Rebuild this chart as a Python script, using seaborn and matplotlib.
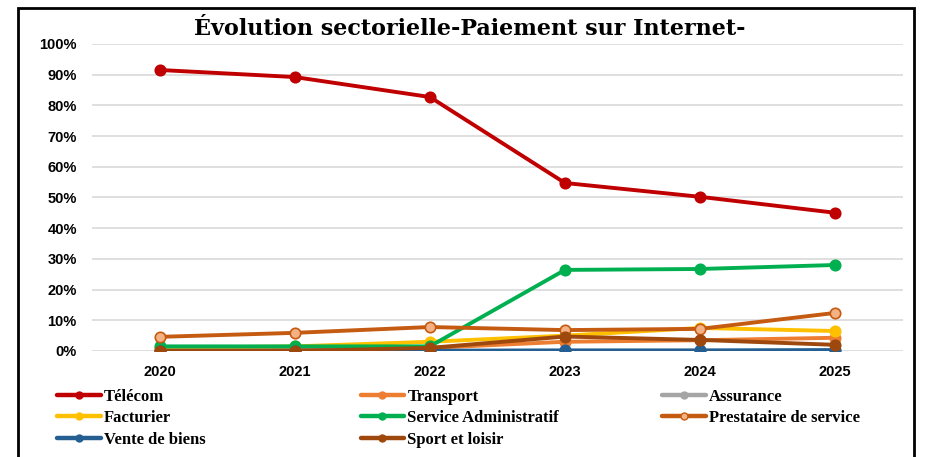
import pandas as pd
import seaborn as sns
import matplotlib.pyplot as plt
from matplotlib.lines import Line2D
from matplotlib.patches import Rectangle
from matplotlib.ticker import PercentFormatter

years = ["2020", "2021", "2022", "2023", "2024", "2025"]

telecom = [91.5, 89.2, 82.7, 54.7, 50.2, 45.0]
transport = [0.5, 0.5, 1.0, 3.0, 3.5, 4.3]
assurance = [0.0, 0.0, 0.0, 0.0, 0.0, 0.0]
facturier = [1.0, 1.5, 3.0, 5.0, 7.5, 6.5]
service_admin = [1.5, 1.5, 1.5, 26.4, 26.7, 28.0]
prestataire = [4.6, 5.9, 7.8, 6.8, 7.2, 12.4]
vente_biens = [0.1, 0.1, 0.1, 0.2, 0.2, 0.3]
sport_loisir = [0.0, 0.0, 1.0, 4.7, 3.6, 2.0]

series = [
    ("Télécom", telecom, "#C00000", "#C00000"),
    ("Transport", transport, "#ED7D31", "#ED7D31"),
    ("Assurance", assurance, "#A5A5A5", "#A5A5A5"),
    ("Facturier", facturier, "#FFC000", "#FFC000"),
    ("Service Administratif", service_admin, "#00B050", "#00B050"),
    ("Prestataire de service", prestataire, "#C55A11", "#F4B183"),
    ("Vente de biens", vente_biens, "#255E91", "#255E91"),
    ("Sport et loisir", sport_loisir, "#9E480E", "#9E480E"),
]

sns.set_theme(style="white")

fig = plt.figure(figsize=(9.25, 4.57), dpi=100)
ax = fig.add_axes([0.0995, 0.232, 0.8765, 0.672])

x = list(range(len(years)))
for name, vals, col, face in series:
    df = pd.DataFrame({"x": x, "val": vals})
    sns.lineplot(data=df, x="x", y="val", ax=ax, color=col, linewidth=2.8,
                 marker="o", markersize=7.5, markerfacecolor=face,
                 markeredgecolor=col, markeredgewidth=1.2, zorder=3)

ax.set_xlim(-0.5, 5.5)
ax.set_ylim(0, 100)
ax.set_yticks(range(0, 101, 10))
ax.yaxis.set_major_formatter(PercentFormatter(decimals=0))
ax.set_xticks(x)
ax.set_xticklabels(years)
ax.set_xlabel("")
ax.set_ylabel("")
ax.grid(axis="y", color="#D9D9D9", linewidth=1.2)
ax.set_axisbelow(True)
for s in ax.spines.values():
    s.set_visible(False)
ax.tick_params(axis="y", length=0, pad=11)
ax.tick_params(axis="x", length=0, pad=10)
for lab in ax.get_xticklabels() + ax.get_yticklabels():
    lab.set_fontfamily("Liberation Sans")
    lab.set_fontweight("bold")
    lab.set_fontsize(10.5)
    lab.set_color("#000000")

fig.text(0.508, 0.936, "Évolution sectorielle-Paiement sur Internet-",
         ha="center", va="center", fontsize=16, fontweight="bold",
         family="DejaVu Serif", color="black")

handles = []
for name, vals, col, face in series:
    handles.append(Line2D([0], [0], color=col, linewidth=3.2, marker="o",
                          markersize=5, markerfacecolor=face,
                          markeredgecolor=col, label=name))

# three legend columns, filled row by row like the original
col_x = [0.062, 0.390, 0.716]
for c in range(3):
    leg = fig.legend(handles=handles[c::3], loc="upper left",
                     bbox_to_anchor=(col_x[c], 0.149), frameon=False,
                     prop={"family": "Liberation Serif", "weight": "bold", "size": 12},
                     handlelength=2.6, handletextpad=0.2,
                     labelspacing=0.32, borderpad=0, borderaxespad=0)
    for t in leg.get_texts():
        t.set_color("black")

fig.patches.append(Rectangle((0.0195, -0.05), 0.969, 1.032, transform=fig.transFigure,
                             fill=False, edgecolor="black", linewidth=2))

fig.savefig("out.png", dpi=100)
